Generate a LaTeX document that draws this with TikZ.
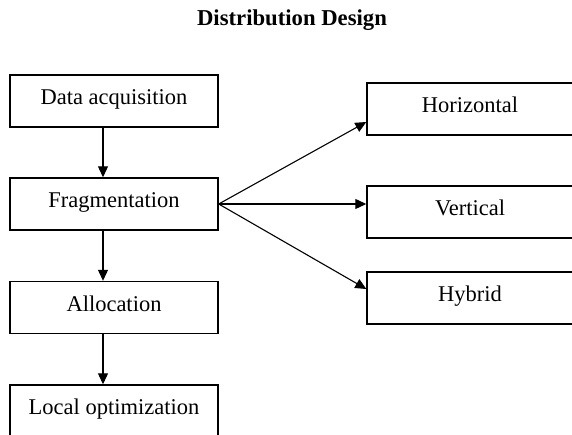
\documentclass[tikz,border=0pt]{standalone}
\usepackage{fontspec}
\setmainfont{Liberation Serif}
\usetikzlibrary{arrows.meta}
\begin{document}
\begin{tikzpicture}[x=1pt,y=-1pt,
  box/.style={draw,line width=1.4pt,rectangle,minimum height=52pt,inner sep=0pt,
    text height=15pt,text depth=8pt,font=\fontsize{22.5}{27}\selectfont},
  lbox/.style={box,minimum width=208pt},
  rbox/.style={box,minimum width=206pt},
  arr/.style={line width=1.1pt,-{Triangle[length=11pt,width=10pt]}}]
\useasboundingbox (0,0) rectangle (572,435);
\clip (0,0) rectangle (572,435);
\node[anchor=base,font=\fontsize{22.7}{27}\selectfont\bfseries] (title) at (292,26) {Distribution Design};
\node[lbox] (da) at (114,101) {Data acquisition};
\node[lbox] (fr) at (114,204) {Fragmentation};
\node[lbox] (al) at (114,307.5) {Allocation};
\node[lbox] (lo) at (114,411) {Local optimization};
\node[rbox] (ho) at (470,109) {Horizontal};
\node[rbox] (ve) at (470,212) {Vertical};
\node[rbox] (hy) at (470,298) {Hybrid};
\draw[arr] (da.south -| 103,0) -- (fr.north -| 103,0);
\draw[arr] (fr.south -| 103,0) -- (al.north -| 103,0);
\draw[arr] (al.south -| 103,0) -- (lo.north -| 103,0);
\draw[arr] (fr.east) -- ([yshift=-13pt]ho.west);
\draw[arr] (fr.east) -- (ve.west |- fr.east);
\draw[arr] (fr.east) -- ([yshift=9pt]hy.west);
\end{tikzpicture}
\end{document}
